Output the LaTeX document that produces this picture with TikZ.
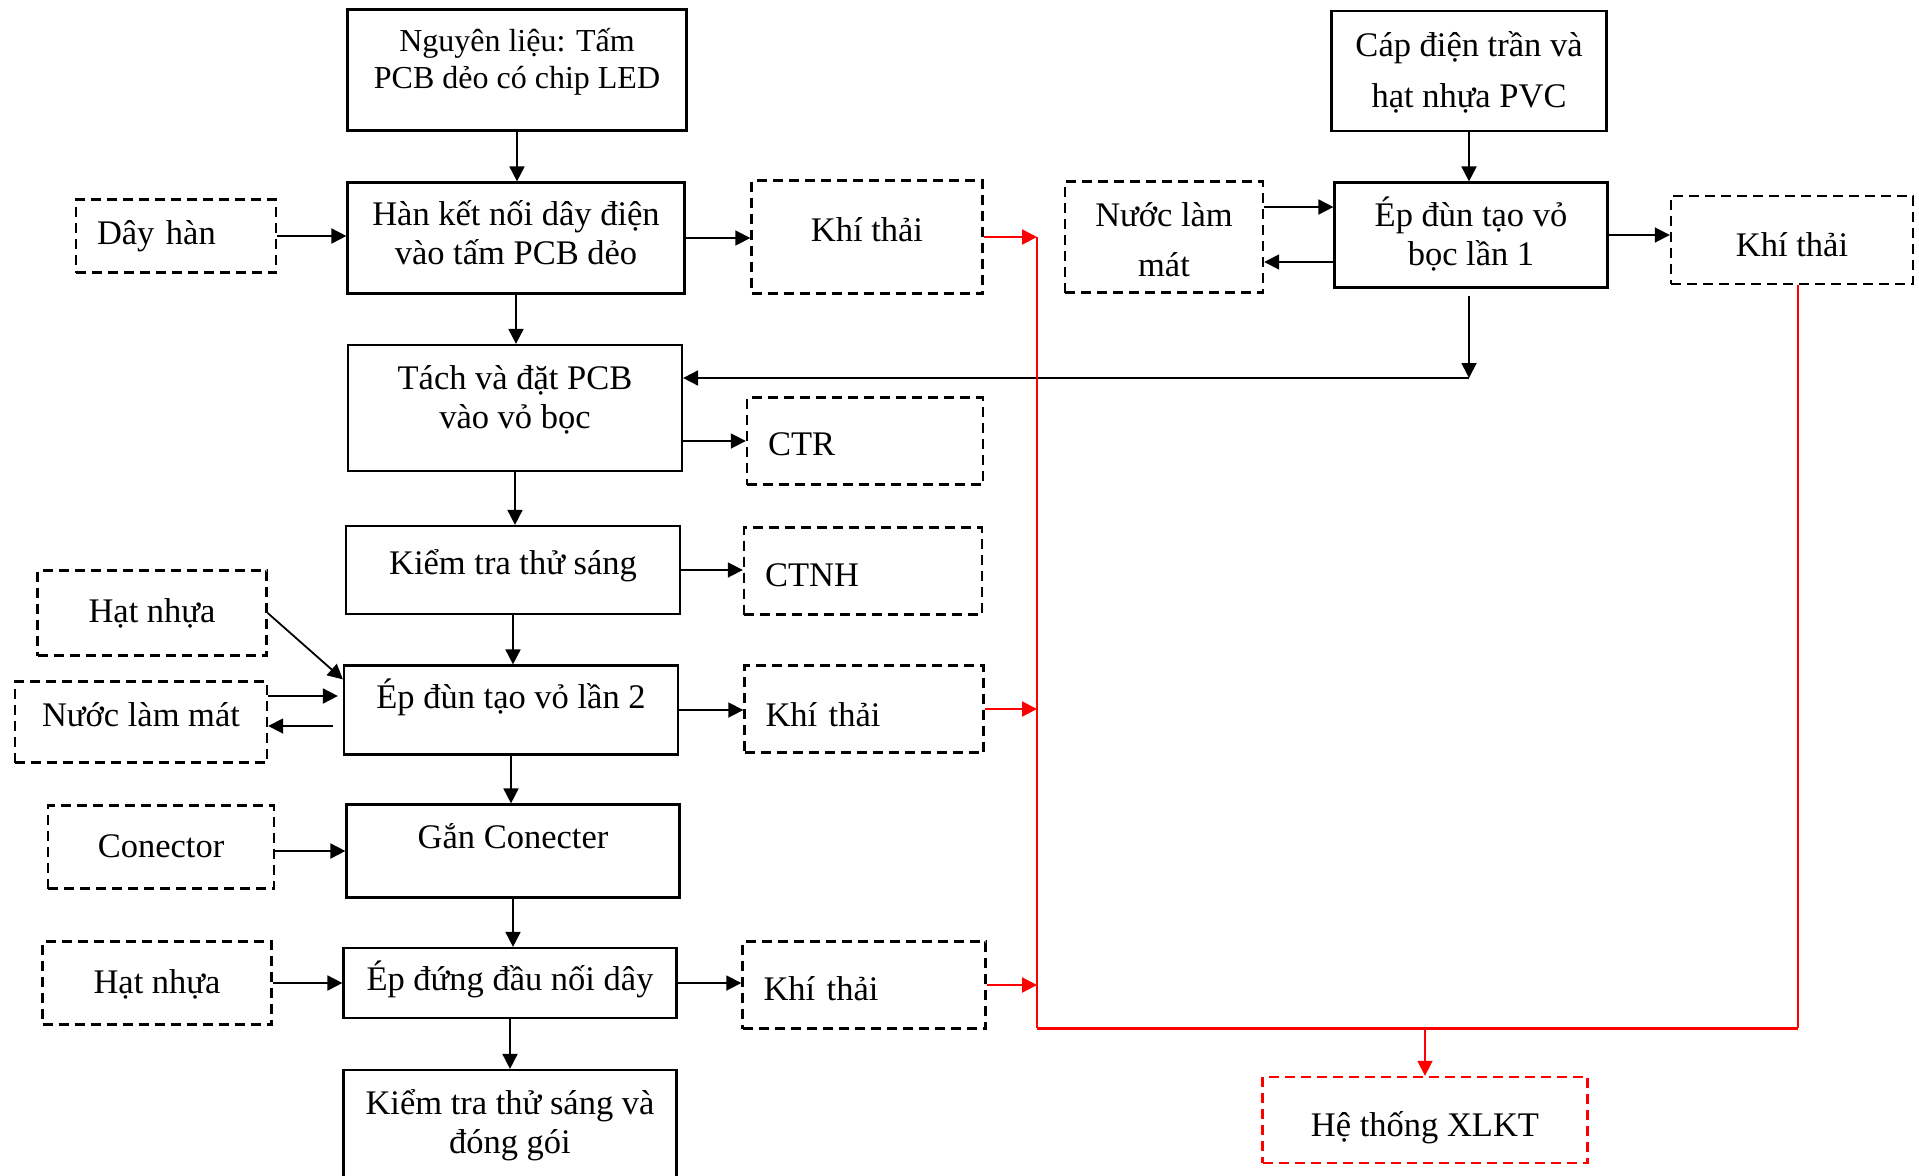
\documentclass[tikz,border=0pt]{standalone}
\usepackage{fontspec}
\setmainfont{Liberation Serif}
\usetikzlibrary{arrows.meta}
\tikzset{
    stepnode/.style={
        draw,line width=2.2pt,inner sep=0pt,align=center
    },
    sidenode/.style={
        draw,line width=2.4pt,dash pattern=on 10pt off 6pt,inner sep=0pt,align=center
    },
    lefttext/.style={
        align=left,inner xsep=21pt,text width=#1
    },
    wh/.style 2 args={
        minimum width=#1,minimum height=#2
    },
    tb/.style 2 args={
        text height=#1,text depth=#2
    },
    redline/.style={
        red,line width=1.8pt
    }
}

\begin{document}
\begin{tikzpicture}[x=1pt,y=-1pt,>={Triangle[length=15pt,width=15pt]},line width=1.8pt,font=\fontsize{34.5}{39}\selectfont]
\useasboundingbox[fill=white] (0,0) rectangle (1919,1175);
% main line
\node[stepnode,wh={339pt}{121pt},tb={36pt}{0pt},font=\fontsize{32}{37}\selectfont] (pcb) at (517,70) {Nguyên liệu: Tấm\\PCB dẻo có chip LED};
\node[stepnode,wh={337pt}{111pt},tb={53pt}{0pt}] (han) at (516,238) {Hàn kết nối dây điện\\vào tấm PCB dẻo};
\node[stepnode,wh={334pt}{126pt},tb={41pt}{0pt}] (tach) at (515,408) {Tách và đặt PCB\\vào vỏ bọc};
\node[stepnode,wh={334pt}{88pt},tb={8pt}{0pt}] (test) at (513,570) {Kiểm tra thử sáng};
\node[stepnode,wh={334pt}{89pt},tb={0pt}{3pt}] (ep2) at (511,710) {Ép đùn tạo vỏ lần 2};
\node[stepnode,wh={333pt}{93pt},tb={0pt}{6pt}] (gan) at (513,851) {Gắn Conecter};
\node[stepnode,wh={333pt}{70pt},tb={14pt}{0pt}] (epdung) at (510,983) {Ép đứng đầu nối dây};
\node[stepnode,wh={333pt}{120pt},tb={47pt}{0pt}] (final) at (510,1130) {Kiểm tra thử sáng và\\đóng gói};
% inputs
\node[sidenode,lefttext=158pt,wh={200pt}{73pt},tb={16pt}{0pt}] (dayhan) at (176,236) {Dây hàn};
\node[sidenode,wh={229pt}{85pt},tb={19pt}{0pt}] (hat1) at (152,613) {Hạt nhựa};
\node[sidenode,wh={252pt}{81pt},tb={8pt}{0pt}] (nuoc2) at (141,722) {Nước làm mát};
\node[sidenode,wh={226pt}{83pt},tb={20pt}{0pt}] (conector) at (161,847) {Conector};
\node[sidenode,wh={229pt}{83pt},tb={21pt}{0pt}] (hat2) at (157,983) {Hạt nhựa};
% outputs
\node[sidenode,wh={231pt}{113pt},tb={8pt}{0pt}] (khi1) at (867,237) {Khí thải};
\node[sidenode,lefttext=194pt,wh={236pt}{87pt},tb={29pt}{0pt}] (ctr) at (865,441) {CTR};
\node[sidenode,lefttext=196pt,wh={238pt}{87pt},tb={31pt}{0pt}] (ctnh) at (863,571) {CTNH};
\node[sidenode,lefttext=197pt,wh={239pt}{87pt},tb={34pt}{0pt}] (khi2) at (864,709) {Khí thải};
\node[sidenode,lefttext=201pt,wh={243pt}{87pt},tb={31pt}{0pt}] (khi3) at (864,985) {Khí thải};
% cable branch
\node[stepnode,wh={275pt}{120pt},tb={72pt}{0pt},font=\fontsize{34.5}{51}\selectfont] (cap) at (1469,71) {Cáp điện trần và\\hạt nhựa PVC};
\node[stepnode,wh={273pt}{105pt},tb={60pt}{0pt}] (ep1) at (1471,235) {Ép đùn tạo vỏ\\bọc lần 1};
\node[sidenode,wh={198pt}{111pt},tb={78pt}{0pt},font=\fontsize{34.5}{50}\selectfont] (nuoc1) at (1164,237) {Nước làm\\mát};
\node[sidenode,wh={242pt}{88pt},tb={33pt}{0pt}] (khi4) at (1792,240) {Khí thải};
\node[sidenode,draw=red,wh={325pt}{86pt},tb={33pt}{0pt}] (xlkt) at (1425,1120) {Hệ thống XLKT};
\coordinate (bend) at (1469,378);
\coordinate (rtrunk) at (1037,1028);
\coordinate (rcorner) at (1798,1028);
% flow
\draw[->] (pcb.south) -- (pcb.south |- han.north);
\draw[->] (han.south) -- (han.south |- tach.north);
\draw[->] (tach.south) -- (tach.south |- test.north);
\draw[->] (test.south) -- (test.south |- ep2.north);
\draw[->] (ep2.south) -- (ep2.south |- gan.north);
\draw[->] (gan.south) -- (gan.south |- epdung.north);
\draw[->] (epdung.south) -- (epdung.south |- final.north);
\draw[->] (dayhan.east) -- (dayhan.east -| han.west);
\draw[->] (han.east) -- (han.east -| khi1.west);
\draw[->] (tach.east |- ctr.west) -- (ctr.west);
\draw[->] (test.east) -- (test.east -| ctnh.west);
\draw[->] (hat1.east) -- ([yshift=-15pt]ep2.north west);
\draw[->,shorten >=5pt] ([yshift=26pt]nuoc2.east) -- ([yshift=26pt]nuoc2.east -| ep2.west);
\draw[->,shorten <=10pt] ([yshift=-16pt]ep2.west) -- ([yshift=-16pt]ep2.west -| nuoc2.east);
\draw[->] (ep2.east) -- (ep2.east -| khi2.west);
\draw[->] (gan.west -| conector.east) -- (gan.west);
\draw[->] (hat2.east) -- (hat2.east -| epdung.west);
\draw[->] (epdung.east) -- (epdung.east -| khi3.west);
\draw[->] (cap.south) -- (cap.south |- ep1.north);
\draw[->] ([yshift=30pt]nuoc1.east) -- ([yshift=30pt]nuoc1.east -| ep1.west);
\draw[->] ([yshift=-27pt]ep1.west) -- ([yshift=-27pt]ep1.west -| nuoc1.east);
\draw[->] (ep1.east) -- (ep1.east -| khi4.west);
\draw[->,shorten <=7pt] (bend |- ep1.south) -- (bend);
\draw[->] (bend) -- (bend -| tach.east);
% exhaust lines
\draw[redline,line width=2.2pt,->] (khi1.east) -- (khi1.east -| rtrunk);
\draw[redline,line width=2.2pt,->] (khi2.east) -- (khi2.east -| rtrunk);
\draw[redline,line width=2.2pt,->] (khi3.east) -- (khi3.east -| rtrunk);
\draw[redline] (khi1.east -| rtrunk) -- (rtrunk);
\draw[redline] (rcorner |- khi4.south) -- (rcorner);
\draw[redline,line width=3pt] (rtrunk) -- (rcorner);
\draw[redline,->] (xlkt.north |- rtrunk) -- (xlkt.north);
\end{tikzpicture}
\end{document}
